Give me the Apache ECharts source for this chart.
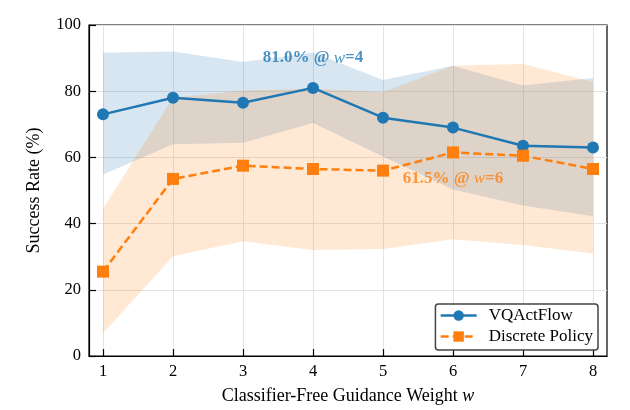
<!DOCTYPE html>
<html>
<head>
<meta charset="utf-8">
<script src="https://cdn.jsdelivr.net/npm/echarts@6/dist/echarts.min.js"></script>
<style>
  html, body { margin: 0; padding: 0; background: #fff; }
  #chart { width: 630px; height: 410px; }
</style>
</head>
<body>
<div id="chart"></div>
<script>
var chart = echarts.init(document.getElementById('chart'));

// data
var weights = [1, 2, 3, 4, 5, 6, 7, 8];
var vqMean  = [73, 78, 76.5, 81, 72, 69, 63.5, 63];
var vqLow   = [54.8, 64.0, 64.4, 70.4, 60.3, 50.3, 45.5, 42.2];
var vqHigh  = [91.6, 92.0, 88.8, 91.7, 83.4, 87.7, 81.7, 84.0];
var dpMean  = [25.5, 53.5, 57.5, 56.5, 56, 61.5, 60.5, 56.5];
var dpLow   = [6.9, 30.1, 34.7, 32.0, 32.3, 35.3, 33.5, 31.0];
var dpHigh  = [44.5, 78.0, 80.2, 80.8, 79.7, 87.7, 88.2, 82.8];
var yTicks  = [0, 20, 40, 60, 80, 100];
var vqNote  = { x: 4, y: 90, text: '81.0% @ ' };
var dpNote  = { x: 6, y: 53.5, text: '61.5% @ ' };

var blue = '#1f77b4';
var orange = '#ff7f0e';
var font = "'Liberation Serif', 'DejaVu Serif', serif";

function pairs(ys) {
  return weights.map(function (w, i) { return [w, ys[i]]; });
}

// shaded band between lo and hi, drawn as one polygon
function band(name, lo, hi, color) {
  return {
    name: name,
    type: 'custom',
    silent: true,
    z: 1,
    data: pairs(hi),
    encode: { x: 0, y: 1 },
    renderItem: function (params, api) {
      if (params.dataIndex !== 0) return null;
      var pts = [];
      weights.forEach(function (w, i) { pts.push(api.coord([w, hi[i]])); });
      for (var i = weights.length - 1; i >= 0; i--) pts.push(api.coord([weights[i], lo[i]]));
      return {
        type: 'polygon',
        shape: { points: pts },
        style: { fill: color, stroke: null }
      };
    }
  };
}

function note(n, color, w) {
  return {
    type: 'scatter',
    data: [[n.x, n.y]],
    symbolSize: 0,
    silent: true,
    z: 5,
    label: {
      show: true,
      position: 'inside',
      formatter: '{b|' + n.text + '}{i|w}{b|=' + w + '}',
      rich: {
        b: { fontFamily: font, fontSize: 17, fontWeight: 'bold', color: color },
        i: { fontFamily: font, fontSize: 17, fontStyle: 'italic', color: color }
      }
    }
  };
}

var series = [
  band('vqBand', vqLow, vqHigh, 'rgba(31,119,180,0.18)'),
  band('dpBand', dpLow, dpHigh, 'rgba(255,127,14,0.18)'),
  {
    name: 'VQActFlow',
    type: 'line',
    data: pairs(vqMean),
    symbol: 'circle',
    symbolSize: 12,
    itemStyle: { color: blue },
    lineStyle: { color: blue, width: 2.5 },
    z: 3
  }, {
    name: 'Discrete Policy',
    type: 'line',
    data: pairs(dpMean),
    symbol: 'rect',
    symbolSize: 12,
    itemStyle: { color: orange },
    lineStyle: { color: orange, width: 2.5, type: [8, 4] },
    z: 3
  },
  note(vqNote, blue, 4),
  note(dpNote, orange, 6)
];

var option = {
  backgroundColor: '#fff',
  animation: false,
  textStyle: { fontFamily: font },
  grid: {
    left: 89, right: 23, top: 25, bottom: 51,
    show: true, borderColor: '#000', borderWidth: 1.2
  },
  legend: {
    data: ['VQActFlow', 'Discrete Policy'],
    orient: 'vertical',
    right: 32, bottom: 60,
    itemWidth: 36, itemHeight: 13, itemGap: 4,
    padding: [3, 5, 5, 4],
    lineStyle: { width: 2.5 },
    backgroundColor: 'rgba(255,255,255,0.85)',
    borderColor: '#444', borderWidth: 1.5, borderRadius: 3,
    textStyle: { fontFamily: font, fontSize: 17, color: '#000', padding: [0, 0, 0, 7] }
  },
  xAxis: {
    type: 'value',
    min: 0.8, max: 8.2,
    name: '{n|Classifier-Free Guidance Weight }{i|w}',
    nameLocation: 'middle',
    nameGap: 31,
    nameTextStyle: {
      rich: {
        n: { fontFamily: font, fontSize: 18, color: '#000' },
        i: { fontFamily: font, fontSize: 18, fontStyle: 'italic', color: '#000' }
      }
    },
    axisLine: { show: true, onZero: false, lineStyle: { color: '#000', width: 1.2 } },
    axisTick: { show: true, inside: true, length: 7, customValues: weights, lineStyle: { color: '#000', width: 1.2 } },
    axisLabel: { customValues: weights, margin: 7, fontFamily: font, fontSize: 16.5, color: '#000' },
    splitLine: { show: true, lineStyle: { color: '#e3e3e3', width: 1 } }
  },
  yAxis: {
    type: 'value',
    min: 0, max: 100, interval: 20,
    name: 'Success Rate (%)',
    nameLocation: 'middle',
    nameGap: 46,
    nameTextStyle: { fontFamily: font, fontSize: 18, color: '#000' },
    axisLine: { show: true, lineStyle: { color: '#000', width: 1.2 } },
    axisTick: { show: true, inside: true, length: 7, lineStyle: { color: '#000', width: 1.2 } },
    axisLabel: { margin: 8, fontFamily: font, fontSize: 16.5, color: '#000',
      formatter: function (v) { return yTicks.indexOf(v) >= 0 ? String(v) : ''; } },
    splitLine: { show: true, lineStyle: { color: '#e3e3e3', width: 1 } }
  },
  series: series
};

chart.setOption(option);
</script>
</body>
</html>
